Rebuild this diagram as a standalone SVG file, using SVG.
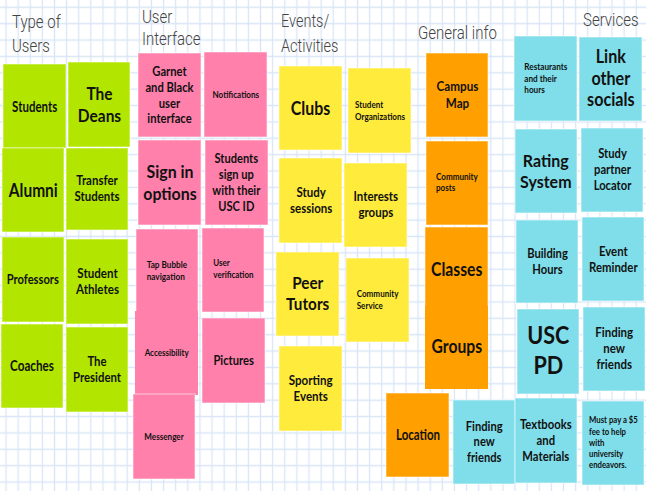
<svg xmlns="http://www.w3.org/2000/svg" width="646" height="491" viewBox="0 0 646 491">
<defs>
<pattern id="grid" patternUnits="userSpaceOnUse" x="-0.06" y="-0.88" width="12.12" height="16.37">
<path d="M6.06 0V16.37M0 8.18H12.12" stroke="#d9e6f7" stroke-width="1.3" fill="none"/>
</pattern>
<style>
.n rect{stroke:#ffffff;stroke-opacity:0.55;stroke-width:1}
.g rect{fill:#b2e600}
.p rect{fill:#ff80ab}
.y rect{fill:#ffeb3b}
.o rect{fill:#ffa000}
.c rect{fill:#80deea}
.t{font-family:Lato,"Noto Sans",sans-serif;font-weight:700;fill:#111;text-anchor:middle}
.l{font-family:Lato,"Noto Sans",sans-serif;font-weight:700;fill:#111;text-anchor:start}
.h{font-family:Roboto,"Liberation Sans",sans-serif;font-weight:300;fill:#444;font-size:15px}
</style>
</defs>
<rect width="646" height="491" fill="#ffffff"/>
<rect width="646" height="491" fill="url(#grid)"/>

<g id="headers">
<text class="h" transform="matrix(1,0,0,1.25,12,0)"><tspan x="0" y="22.4">Type of</tspan><tspan x="0" y="41.6">Users</tspan></text>
<text class="h" transform="matrix(1,0,0,1.25,142,0)"><tspan x="0" y="18.4">User</tspan><tspan x="0" y="36.4">Interface</tspan></text>
<text class="h" style="font-size:14.5px" transform="matrix(1,0,0,1.25,281,0)"><tspan x="0" y="21.6">Events/</tspan><tspan x="0" y="41.6">Activities</tspan></text>
<text class="h" transform="matrix(1,0,0,1.25,418,0)"><tspan x="0" y="31.6">General info</tspan></text>
<text class="h" transform="matrix(1,0,0,1.25,583,0)"><tspan x="0" y="20.8">Services</tspan></text>
</g>

<g id="connectors"></g>

<!-- Green: Type of Users -->
<g id="n-students" class="n g"><rect x="3" y="64" width="63" height="84"/><text class="t" font-size="11.5" transform="matrix(1,0,0,1.25,34.7,0)"><tspan x="0" y="89.3">Students</tspan></text></g>
<g id="n-deans" class="n g"><rect x="68" y="62" width="62" height="85"/><text class="t" font-size="15.5" transform="matrix(1,0,0,1.12,99.5,0)"><tspan x="0" y="88.9">The</tspan><tspan x="0" y="108.5">Deans</tspan></text></g>
<g id="n-alumni" class="n g"><rect x="2" y="148" width="62" height="84"/><text class="t" font-size="15.5" transform="matrix(1,0,0,1.25,33.3,0)"><tspan x="0" y="157.8">Alumni</tspan></text></g>
<g id="n-transfer" class="n g"><rect x="66" y="148" width="62" height="82"/><text class="t" font-size="11.5" transform="matrix(1,0,0,1.12,97,0)"><tspan x="0" y="165.3">Transfer</tspan><tspan x="0" y="179.6">Students</tspan></text></g>
<g id="n-professors" class="n g"><rect x="2" y="237" width="62" height="85"/><text class="t" font-size="11.2" transform="matrix(1,0,0,1.25,32.8,0)"><tspan x="0" y="227.6">Professors</tspan></text></g>
<g id="n-athletes" class="n g"><rect x="66" y="239" width="62" height="85"/><text class="t" font-size="11.6" transform="matrix(1,0,0,1.12,97.5,0)"><tspan x="0" y="248.4">Student</tspan><tspan x="0" y="262.6">Athletes</tspan></text></g>
<g id="n-coaches" class="n g"><rect x="1" y="324" width="62" height="84"/><text class="t" font-size="11.7" transform="matrix(1,0,0,1.25,32,0)"><tspan x="0" y="297.1">Coaches</tspan></text></g>
<g id="n-president" class="n g"><rect x="66" y="327" width="62" height="85"/><text class="t" font-size="11.4" transform="matrix(1,0,0,1.12,97,0)"><tspan x="0" y="327.1">The</tspan><tspan x="0" y="341.4">President</tspan></text></g>

<!-- Pink: User Interface -->
<g id="n-garnet" class="n p"><rect x="138" y="53" width="63" height="84"/><text class="t" font-size="11.2" transform="matrix(1,0,0,1.12,169.5,0)"><tspan x="0" y="68.1">Garnet</tspan><tspan x="0" y="82.4">and Black</tspan><tspan x="0" y="96.4">user</tspan><tspan x="0" y="110.1">interface</tspan></text></g>
<g id="n-notifications" class="n p"><rect x="204" y="52" width="63" height="85"/><text class="t" font-size="8.1" transform="matrix(1,0,0,1.25,235.8,0)"><tspan x="0" y="78.6">Notifications</tspan></text></g>
<g id="n-signin" class="n p"><rect x="138" y="140" width="63" height="85"/><text class="t" font-size="15.9" transform="matrix(1,0,0,1.12,170,0)"><tspan x="0" y="158.9">Sign in</tspan><tspan x="0" y="178.3">options</tspan></text></g>
<g id="n-signup" class="n p"><rect x="205" y="140" width="63" height="85"/><text class="t" font-size="11.1" transform="matrix(1,0,0,1.12,236.3,0)"><tspan x="0" y="145.5">Students</tspan><tspan x="0" y="159.8">sign up</tspan><tspan x="0" y="174.1">with their</tspan><tspan x="0" y="188.1">USC ID</tspan></text></g>
<g id="n-tapbubble" class="n p"><rect x="136" y="229" width="62" height="84"/><text class="l" font-size="8.2" transform="matrix(1,0,0,1.12,146.7,0)"><tspan x="0" y="239.2">Tap Bubble</tspan><tspan x="0" y="250.2">navigation</tspan></text></g>
<g id="n-accessibility" class="n p"><rect x="135" y="311" width="63" height="84" style="stroke:none"/><text class="t" font-size="8" transform="matrix(1,0,0,1.25,166.7,0)"><tspan x="0" y="285.2">Accessibility</tspan></text></g>
<g id="n-messenger" class="n p"><rect x="133" y="394" width="62" height="85"/><text class="t" font-size="8.1" transform="matrix(1,0,0,1.25,164,0)"><tspan x="0" y="352.4">Messenger</tspan></text></g>
<g id="n-verification" class="n p"><rect x="202" y="228" width="62" height="84"/><text class="l" font-size="8" transform="matrix(1,0,0,1.12,213.3,0)"><tspan x="0" y="237.7">User</tspan><tspan x="0" y="248.1">verification</tspan></text></g>
<g id="n-pictures" class="n p"><rect x="202" y="318" width="63" height="85"/><text class="t" font-size="11.2" transform="matrix(1,0,0,1.25,233.7,0)"><tspan x="0" y="292.2">Pictures</tspan></text></g>

<!-- Yellow: Events/Activities -->
<g id="n-clubs" class="n y"><rect x="279" y="66" width="63" height="84"/><text class="t" font-size="15.9" transform="matrix(1,0,0,1.25,310.5,0)"><tspan x="0" y="91.8">Clubs</tspan></text></g>
<g id="n-studentorgs" class="n y"><rect x="348" y="68" width="63" height="85"/><text class="l" font-size="8.1" transform="matrix(1,0,0,1.12,355,0)"><tspan x="0" y="96.3">Student</tspan><tspan x="0" y="106.8">Organizations</tspan></text></g>
<g id="n-study" class="n y"><rect x="279" y="158" width="63" height="85"/><text class="t" font-size="11.5" transform="matrix(1,0,0,1.12,311.2,0)"><tspan x="0" y="175.7">Study</tspan><tspan x="0" y="190.6">sessions</tspan></text></g>
<g id="n-interests" class="n y"><rect x="344" y="163" width="63" height="84"/><text class="t" font-size="11.5" transform="matrix(1,0,0,1.12,375.8,0)"><tspan x="0" y="179.8">Interests</tspan><tspan x="0" y="194.1">groups</tspan></text></g>
<g id="n-peer" class="n y"><rect x="276" y="252" width="63" height="84"/><text class="t" font-size="15.3" transform="matrix(1,0,0,1.12,307.7,0)"><tspan x="0" y="257.9">Peer</tspan><tspan x="0" y="277.2">Tutors</tspan></text></g>
<g id="n-community-service" class="n y"><rect x="346" y="258" width="63" height="84"/><text class="l" font-size="8.1" transform="matrix(1,0,0,1.12,356.7,0)"><tspan x="0" y="265.1">Community</tspan><tspan x="0" y="275.5">Service</tspan></text></g>
<g id="n-sporting" class="n y"><rect x="279" y="346" width="63" height="85"/><text class="t" font-size="11.6" transform="matrix(1,0,0,1.12,310.7,0)"><tspan x="0" y="343.4">Sporting</tspan><tspan x="0" y="357.7">Events</tspan></text></g>

<!-- Orange: General info -->
<g id="n-campus" class="n o"><rect x="426" y="53" width="62" height="84"/><text class="t" font-size="11.7" transform="matrix(1,0,0,1.12,457.5,0)"><tspan x="0" y="81.7">Campus</tspan><tspan x="0" y="96">Map</tspan></text></g>
<g id="n-posts" class="n o"><rect x="426" y="141" width="62" height="84"/><text class="l" font-size="8.1" transform="matrix(1,0,0,1.12,436,0)"><tspan x="0" y="160.4">Community</tspan><tspan x="0" y="170.7">posts</tspan></text></g>
<g id="n-classes" class="n o"><rect x="425" y="227" width="63" height="81"/><text class="t" font-size="15.7" transform="matrix(1,0,0,1.25,456.7,0)"><tspan x="0" y="220.5">Classes</tspan></text></g>
<g id="n-groups" class="n o"><rect x="425" y="306" width="63" height="83" style="stroke:none"/><text class="t" font-size="15.7" transform="matrix(1,0,0,1.25,456.8,0)"><tspan x="0" y="282.4">Groups</tspan></text></g>
<g id="n-location" class="n o"><rect x="386" y="393" width="63" height="84"/><text class="t" font-size="11.5" transform="matrix(1,0,0,1.25,418,0)"><tspan x="0" y="351.7">Location</tspan></text></g>

<!-- Cyan: Services -->
<g id="n-restaurants" class="n c"><rect x="514" y="36" width="63" height="85"/><text class="l" font-size="8.2" transform="matrix(1,0,0,1.12,524.3,0)"><tspan x="0" y="62.2">Restaurants</tspan><tspan x="0" y="73.2">and their</tspan><tspan x="0" y="83">hours</tspan></text></g>
<g id="n-link" class="n c"><rect x="579" y="37" width="63" height="84"/><text class="t" font-size="16.1" transform="matrix(1,0,0,1.12,610.8,0)"><tspan x="0" y="56.3">Link</tspan><tspan x="0" y="76">other</tspan><tspan x="0" y="95.1">socials</tspan></text></g>
<g id="n-rating" class="n c"><rect x="515" y="129" width="62" height="84"/><text class="t" font-size="16" transform="matrix(1,0,0,1.12,545.8,0)"><tspan x="0" y="148.9">Rating</tspan><tspan x="0" y="168.2">System</tspan></text></g>
<g id="n-partner" class="n c"><rect x="581" y="128" width="62" height="84"/><text class="t" font-size="11.2" transform="matrix(1,0,0,1.12,612.5,0)"><tspan x="0" y="141.4">Study</tspan><tspan x="0" y="155.4">partner</tspan><tspan x="0" y="169.4">Locator</tspan></text></g>
<g id="n-building" class="n c"><rect x="516" y="220" width="62" height="83"/><text class="t" font-size="11.2" transform="matrix(1,0,0,1.12,547.5,0)"><tspan x="0" y="230.4">Building</tspan><tspan x="0" y="244.7">Hours</tspan></text></g>
<g id="n-reminder" class="n c"><rect x="582" y="217" width="62" height="84"/><text class="t" font-size="11.4" transform="matrix(1,0,0,1.12,613.3,0)"><tspan x="0" y="228.9">Event</tspan><tspan x="0" y="242.7">Reminder</tspan></text></g>
<g id="n-uscpd" class="n c"><rect x="517" y="309" width="62" height="85"/><text class="t" font-size="21.6" transform="matrix(1,0,0,1.12,548.3,0)"><tspan x="0" y="306.9">USC</tspan><tspan x="0" y="334.3">PD</tspan></text></g>
<g id="n-friends-right" class="n c"><rect x="583" y="307" width="62" height="84"/><text class="t" font-size="11.5" transform="matrix(1,0,0,1.12,614.2,0)"><tspan x="0" y="301.3">Finding</tspan><tspan x="0" y="315.6">new</tspan><tspan x="0" y="329.6">friends</tspan></text></g>
<g id="n-friends-left" class="n c"><rect x="453" y="400" width="62" height="84"/><text class="t" font-size="11.2" transform="matrix(1,0,0,1.12,484.2,0)"><tspan x="0" y="384.6">Finding</tspan><tspan x="0" y="398.5">new</tspan><tspan x="0" y="412.8">friends</tspan></text></g>
<g id="n-textbooks" class="n c"><rect x="515" y="398" width="62" height="85"/><text class="t" font-size="11.3" transform="matrix(1,0,0,1.12,545.8,0)"><tspan x="0" y="383.1">Textbooks</tspan><tspan x="0" y="397.1">and</tspan><tspan x="0" y="411.4">Materials</tspan></text></g>
<g id="n-fee" class="n c"><rect x="582" y="401" width="62" height="84"/><text class="l" font-size="7.8" transform="matrix(1,0,0,1.12,589,0)"><tspan x="0" y="378.1">Must pay a $5</tspan><tspan x="0" y="388">fee to help</tspan><tspan x="0" y="397.8">with</tspan><tspan x="0" y="407.9">university</tspan><tspan x="0" y="417.7">endeavors.</tspan></text></g>
</svg>
